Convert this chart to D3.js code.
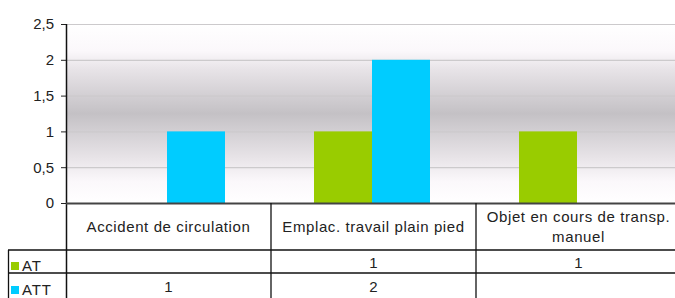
<!DOCTYPE html>
<html>
<head>
<meta charset="utf-8">
<script src="https://cdn.jsdelivr.net/npm/d3@7"></script>
<style>
  body { margin: 0; background: #fff; }
  text { font-family: "Liberation Sans", Arial, sans-serif; fill: #222; }
</style>
</head>
<body>
<script>
// data
var categories = ["Accident de circulation", "Emplac. travail plain pied", "Objet en cours de transp. manuel"];
var seriesNames = ["AT", "ATT"];
var atValues = [null, 1, 1];
var attValues = [1, 2, null];
var yTicks = [0, 0.5, 1, 1.5, 2, 2.5];
var colors = ["#99cc00", "#00ccff"];

var margin = {top: 24, left: 66, bottom: 95};
var width = 681 - margin.left;
var height = 203 - margin.top;

var svg = d3.select("body").append("svg")
    .attr("width", 675)
    .attr("height", 298);

// background gradient
var defs = svg.append("defs");
var grad = defs.append("linearGradient")
    .attr("id", "bg").attr("x1", 0).attr("y1", 0).attr("x2", 0).attr("y2", 1);
grad.append("stop").attr("offset", "0%").attr("stop-color", "#ffffff");
grad.append("stop").attr("offset", "15%").attr("stop-color", "#fbf8fb");
grad.append("stop").attr("offset", "25%").attr("stop-color", "#e8e4e8");
grad.append("stop").attr("offset", "50%").attr("stop-color", "#c4c1c5");
grad.append("stop").attr("offset", "75%").attr("stop-color", "#e8e4e8");
grad.append("stop").attr("offset", "88%").attr("stop-color", "#fbf8fb");
grad.append("stop").attr("offset", "100%").attr("stop-color", "#ffffff");

var g = svg.append("g")
    .attr("transform", "translate(" + margin.left + "," + margin.top + ")");

var x = d3.scaleBand().domain(categories).range([0, width]);
var y = d3.scaleLinear().domain([0, 2.5]).range([height, 0]);

g.append("rect")
    .attr("width", width).attr("height", height)
    .attr("fill", "url(#bg)");

// gridlines
g.selectAll(".grid")
  .data(yTicks.filter(function(d){ return d > 0; }))
  .enter().append("line")
    .attr("x1", 0).attr("x2", width)
    .attr("y1", function(d){ return y(d) + 0.5; })
    .attr("y2", function(d){ return y(d) + 0.5; })
    .attr("stroke", "#cccacc")
    .attr("stroke-width", 1.2);

// bars
var barW = 58;
var series = [atValues, attValues];
series.forEach(function(vals, si) {
  g.selectAll(".bar" + si)
    .data(categories.map(function(c, i){ return {c: c, v: vals[i]}; }).filter(function(d){ return d.v != null; }))
    .enter().append("rect")
      .attr("x", function(d){ return x(d.c) + x.bandwidth() / 2 - 1.5 + (si === 0 ? -barW : 0); })
      .attr("y", function(d){ return y(d.v); })
      .attr("width", barW)
      .attr("height", function(d){ return height - y(d.v); })
      .attr("fill", colors[si]);
});

// y axis
var yAxis = g.append("g")
    .call(d3.axisLeft(y).tickValues(yTicks).tickSize(5).tickPadding(7)
      .tickFormat(function(d){ return String(d).replace(".", ","); }));
yAxis.select(".domain").remove();
yAxis.selectAll("line").attr("stroke", "#222");
yAxis.selectAll("text").style("font-size", "15px").attr("fill", "#222");

// vertical axis line (continues through the table)
g.append("line")
    .attr("x1", 0.5).attr("x2", 0.5)
    .attr("y1", 0).attr("y2", 298 - margin.top)
    .attr("stroke", "#111").attr("stroke-width", 1.5);

// zero line
g.append("line")
    .attr("x1", 0).attr("x2", width)
    .attr("y1", height + 0.5).attr("y2", height + 0.5)
    .attr("stroke", "#444").attr("stroke-width", 2);

// data table
var rowTop = [height, 250 - margin.top, 273 - margin.top, 298 - margin.top];

g.append("line")
    .attr("x1", 8 - margin.left).attr("x2", width)
    .attr("y1", rowTop[1]).attr("y2", rowTop[1])
    .attr("stroke", "#111").attr("stroke-width", 1.3);
g.append("line")
    .attr("x1", 8 - margin.left).attr("x2", width)
    .attr("y1", rowTop[2]).attr("y2", rowTop[2])
    .attr("stroke", "#111").attr("stroke-width", 1.3);
g.append("line")
    .attr("x1", 8.5 - margin.left).attr("x2", 8.5 - margin.left)
    .attr("y1", rowTop[1]).attr("y2", rowTop[3])
    .attr("stroke", "#111").attr("stroke-width", 1.3);

// column separators
g.selectAll(".colsep")
  .data(categories.slice(1))
  .enter().append("line")
    .attr("x1", function(d){ return x(d); })
    .attr("x2", function(d){ return x(d); })
    .attr("y1", height).attr("y2", rowTop[3])
    .attr("stroke", "#111").attr("stroke-width", 1.3);

// header labels
var headerLines = [["Accident de circulation"], ["Emplac. travail plain pied"], ["Objet en cours de transp.", "manuel"]];
categories.forEach(function(c, i) {
  var lines = headerLines[i];
  var mid = (rowTop[0] + rowTop[1]) / 2;
  lines.forEach(function(t, j) {
    g.append("text")
      .attr("x", x(c) + x.bandwidth() / 2)
      .attr("y", mid + 5.5 + (j - (lines.length - 1) / 2) * 19.5)
      .attr("text-anchor", "middle")
      .style("font-size", "15px")
      .style("letter-spacing", "0.6px")
      .text(t);
  });
});

// legend cells and values
series.forEach(function(vals, si) {
  var top = rowTop[si + 1];
  var mid = (top + rowTop[si + 2]) / 2;
  g.append("rect")
    .attr("x", 11 - margin.left).attr("y", mid + 0.5)
    .attr("width", 8).attr("height", 8)
    .attr("fill", colors[si]);
  g.append("text")
    .attr("x", 22 - margin.left).attr("y", mid + 9)
    .style("font-size", "15px")
    .style("letter-spacing", "0.8px")
    .text(seriesNames[si]);
  categories.forEach(function(c, i) {
    if (vals[i] == null) return;
    g.append("text")
      .attr("x", x(c) + x.bandwidth() / 2)
      .attr("y", mid + 6.5)
      .attr("text-anchor", "middle")
      .style("font-size", "15px")
      .text(vals[i]);
  });
});
</script>
</body>
</html>
